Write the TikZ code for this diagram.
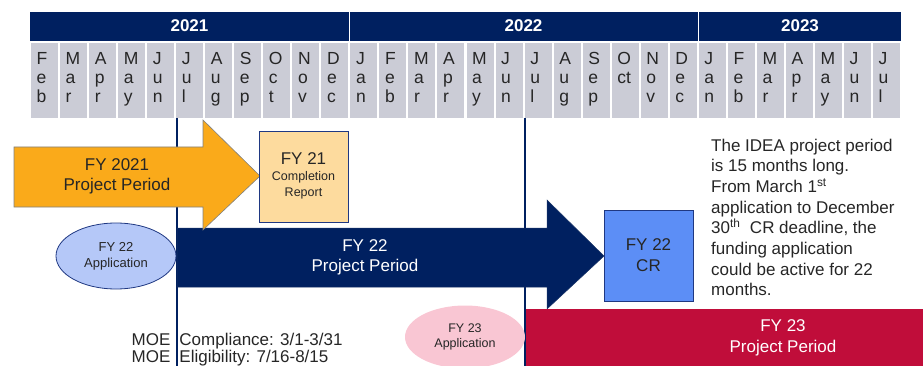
\documentclass[tikz,border=0pt]{standalone}
\usepackage{fontspec}
\setmainfont{Liberation Sans}
\usetikzlibrary{shapes.geometric}
\definecolor{navy}{RGB}{0,32,96}
\definecolor{cellgray}{RGB}{203,204,214}
\definecolor{orangearrow}{RGB}{250,170,26}
\definecolor{peach}{RGB}{253,219,158}
\definecolor{crblue}{RGB}{92,142,246}
\definecolor{appblue}{RGB}{181,200,248}
\definecolor{pinkapp}{RGB}{249,198,211}
\definecolor{crimson}{RGB}{192,13,58}
\definecolor{txt}{RGB}{38,38,38}
\definecolor{borderblue}{RGB}{31,56,130}
\tikzset{
  yearbar/.style={fill=navy},
  yeartext/.style={text=white, font=\fontsize{17}{20}\selectfont\bfseries, inner sep=0},
  monthtext/.style={text=txt, font=\fontsize{17.5}{19}\selectfont, align=left, inner sep=0, anchor=north west},
  vline/.style={draw=navy, line width=1.2pt},
  bigtext/.style={font=\fontsize{17}{20.5}\selectfont, align=center, inner sep=0},
  boxstyle/.style={draw=borderblue, line width=0.9pt, inner sep=0, align=center},
  appellipse/.style={ellipse, inner sep=0, align=center},
}
\begin{document}
\begin{tikzpicture}[x=1pt,y=-1pt]
\useasboundingbox (0,0) rectangle (923,366);
% year bar
\fill[yearbar] (30,12) rectangle (348.5,41);
\fill[yearbar] (350,12) rectangle (697.5,41);
\fill[yearbar] (699,12) rectangle (901,41);
\node[yeartext] (y2021) at (189.5,26) {2021};
\node[yeartext] (y2022) at (523.5,26) {2022};
\node[yeartext] (y2023) at (800,26) {2023};
% months
\foreach \i/\a/\b/\c in {0/F/e/b,1/M/a/r,2/A/p/r,3/M/a/y,4/J/u/n,5/J/u/l,6/A/u/g,7/S/e/p,8/O/c/t,9/N/o/v,10/D/e/c,11/J/a/n,12/F/e/b,13/M/a/r,14/A/p/r,15/M/a/y,16/J/u/n,17/J/u/l,18/A/u/g,19/S/e/p,20/O/ct/{},21/N/o/v,22/D/e/c,23/J/a/n,24/F/e/b,25/M/a/r,26/A/p/r,27/M/a/y,28/J/u/n,29/J/u/l}{
  \pgfmathsetmacro\xl{30+\i*29.033}
  \fill[cellgray] (\xl+1,43) rectangle (\xl+28,118);
  \node[monthtext] (m\i) at (\xl+6.5,52.5) {\a\\\b\\\c};
}
% vertical lines
\coordinate (v1t) at (177,118);
\coordinate (v1b) at (177,366);
\coordinate (v2t) at (525,118);
\coordinate (v2b) at (525,366);
\draw[vline] (v1t) -- (v1b);
\draw[vline] (v2t) -- (v2b);
% FY 22 arrow
\filldraw[fill=navy, draw=navy!80!gray, line width=0.5pt] (177,228) -- (547,228) -- (547,200) -- (604,256) -- (547,309) -- (547,287) -- (177,287) -- cycle;
\node[bigtext, text=white] (fy22t) at (365,257.5) {FY 22\\Project Period};
% FY 2021 arrow
\filldraw[fill=orangearrow, draw=gray, line width=0.6pt] (14,147) -- (203,147) -- (203,120) -- (260,176) -- (203,230) -- (203,207) -- (14,207) -- cycle;
\node[bigtext, text=txt] (fy21t) at (117,176.5) {FY 2021\\Project Period};
% completion report
\node[boxstyle, fill=peach, minimum width=89pt, minimum height=91pt] (fy21cr) at (303.5,176.5) {};
\node[inner sep=0, align=center, text=txt, font=\fontsize{12.5}{15.5}\selectfont] (fy21crt) at (303.5,175.5) {{\fontsize{17}{20}\selectfont FY 21}\\[1pt]Completion\\Report};
% FY 22 CR
\node[boxstyle, fill=crblue, minimum width=89pt, minimum height=91pt, text=txt, font=\fontsize{17}{21}\selectfont] (fy22cr) at (648.5,255.5) {FY 22\\CR};
% FY 22 application
\node[appellipse, draw=borderblue, line width=0.8pt, fill=appblue, minimum width=120pt, minimum height=66pt, text=txt, font=\fontsize{13}{16}\selectfont] (fy22app) at (116,256) {FY 22\\Application};
% FY 23 project period
\fill[crimson] (525.6,309) rectangle (923,366);
\node[bigtext, text=white] (fy23t) at (783,338) {FY 23\\Project Period};
% FY 23 application
\node[appellipse, fill=pinkapp, minimum width=120pt, minimum height=63pt, text=txt, font=\fontsize{12.5}{15}\selectfont] (fy23app) at (465,337) {FY 23\\Application};
% MOE text
\node[inner sep=0, anchor=north west, align=left, text=txt, font=\fontsize{17}{16.5}\selectfont] (moe) at (131.5,333) {MOE\hspace{9pt}Compliance: 3/1-3/31\\MOE\hspace{9pt}Eligibility: 7/16-8/15};
% note text
\node[inner sep=0, anchor=north west, align=left, text=txt, font=\fontsize{17}{20.7}\selectfont] (note) at (711,138.5) {The IDEA project period\\is 15 months long.\\From March 1\textsuperscript{st}\\application to December\\30\textsuperscript{th}\ \ CR deadline, the\\funding application\\could be active for 22\\months.};
\end{tikzpicture}
\end{document}
